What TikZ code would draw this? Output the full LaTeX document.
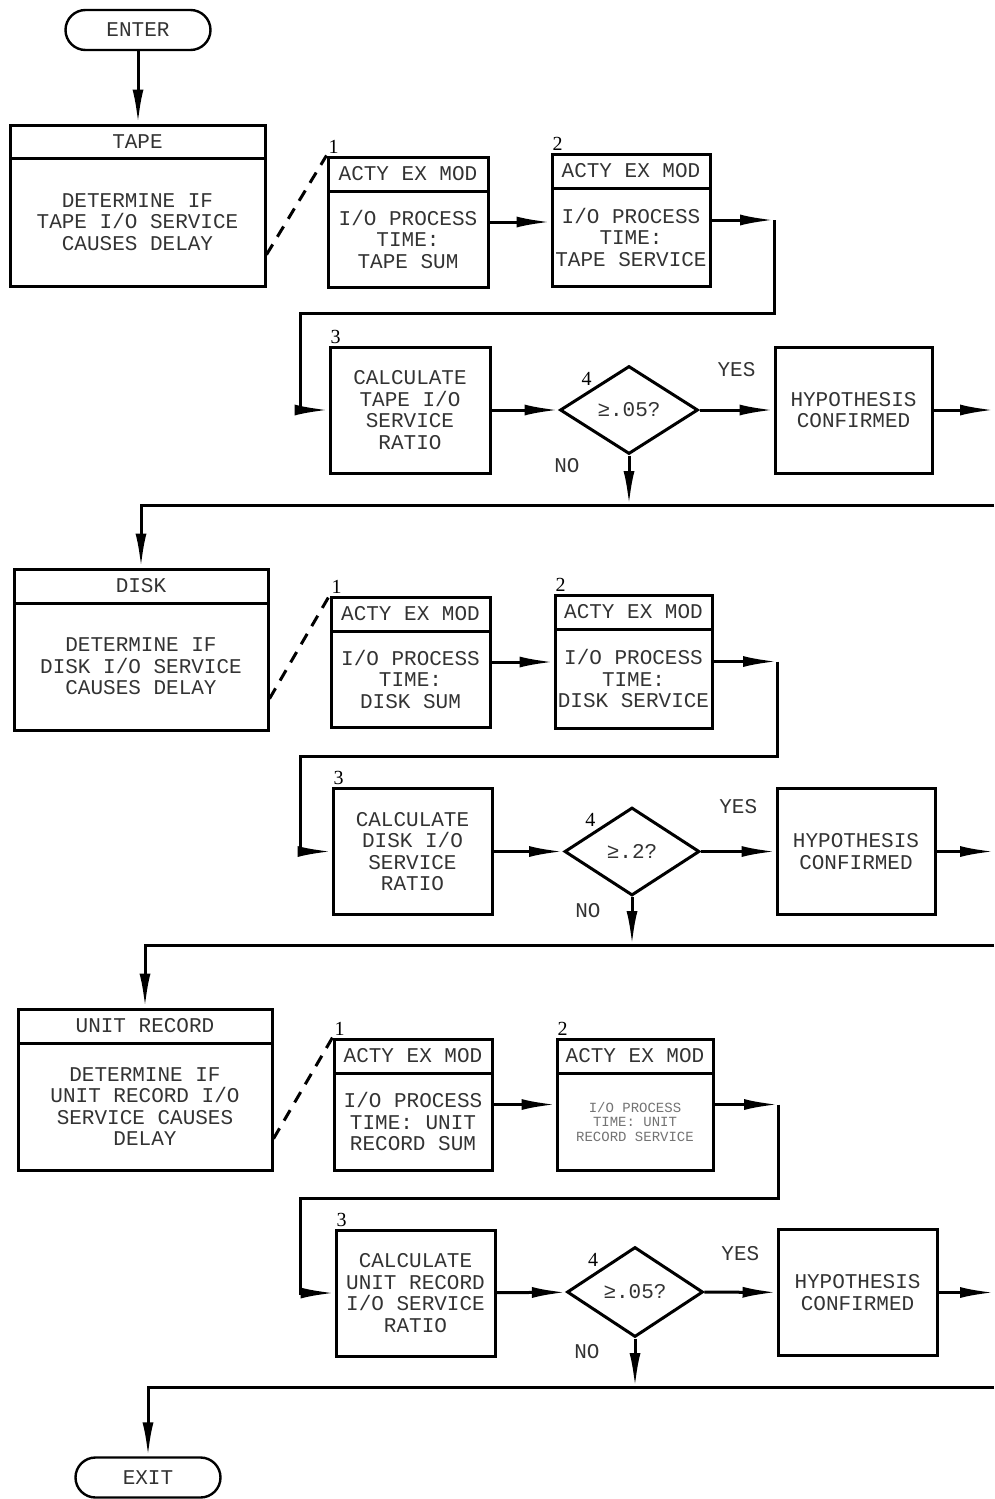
\documentclass[tikz,border=0pt]{standalone}
\usepackage{fontspec}
\setmainfont{Liberation Serif}
\setmonofont{Liberation Mono}
\usetikzlibrary{arrows.meta, positioning, shapes.geometric, shapes.misc, shapes.multipart, calc}

\newcommand{\boxpart}[3]{\parbox[c][#2][c]{#1}{\centering #3}}

\begin{document}
\begin{tikzpicture}[
    x=1pt, y=-1pt,
    txt/.style={font=\ttfamily\fontsize{21}{21.5}\selectfont, text=black!80},
    line/.style={line width=3pt},
    arrow/.style={line, -{Latex[length=34pt, width=11pt]}},
    link/.style={line, dashed, dash pattern=on 12pt off 9pt},
    term/.style={txt, draw, line width=2.4pt, rounded rectangle, minimum width=145pt, minimum height=40pt, inner sep=0pt},
    twopart/.style={txt, draw, line width=3pt, rectangle split, rectangle split parts=2, inner sep=0pt},
    procbox/.style={txt, draw, line width=3pt, minimum height=126pt, align=center, inner sep=0pt},
    decision/.style={txt, draw, line width=3pt, diamond, minimum width=138pt, minimum height=88pt, inner sep=1pt},
    num/.style={font=\rmfamily\fontsize{20}{20}\selectfont, inner sep=2pt},
    answer/.style={txt, inner sep=2pt}
]
    \useasboundingbox (0,0) rectangle (994,1499);

    % tape
    \node[term] (enter) at (138,30) {ENTER};
    \node[twopart] (tape) at (137.5,205.5) {\boxpart{255pt}{30pt}{TAPE}\nodepart{two}\boxpart{255pt}{125pt}{DETERMINE IF\\TAPE I/O SERVICE\\CAUSES DELAY}};
    \node[twopart] (tapesum) at (408,222) {\boxpart{160pt}{31pt}{ACTY EX MOD}\nodepart{two}\boxpart{160pt}{93pt}{I/O PROCESS\\TIME:\\TAPE SUM}};
    \node[twopart] (tapesrv) at (631,220) {\boxpart{158pt}{31pt}{ACTY EX MOD}\nodepart{two}\boxpart{158pt}{95pt}{I/O PROCESS\\TIME:\\TAPE SERVICE}};
    \node[procbox, minimum width=160pt] (tapecalc) at (410,410) {CALCULATE\\TAPE I/O\\SERVICE\\RATIO};
    \node[decision] (tapedec) at (629,410) {≥.05?};
    \node[procbox, minimum width=157pt] (tapehyp) at (853.5,410) {HYPOTHESIS\\CONFIRMED};
    \node[num, anchor=south west] (tapen1) at (tapesum.north west) {1};
    \node[num, anchor=south west] (tapen2) at (tapesrv.north west) {2};
    \node[num, anchor=south west] (tapen3) at (tapecalc.north west) {3};
    \node[num, anchor=south east] (tapen4) at (tapedec.north west) {4};
    \coordinate (tapeturn) at (774,220);
    \coordinate (tapeback) at (300,313);
    \coordinate (tapeedge) at (994,505);

    \draw[arrow] (enter.south) -- (enter.south |- tape.north);
    \draw[link] ($(tape.south east)!0.2!(tape.north east)$) -- (tapesum.north west);
    \draw[arrow] (tapesum.east) -- (tapesum.east -| tapesrv.west);
    \draw[arrow] (tapesrv.east) -- (tapeturn);
    \draw[arrow] (tapeturn) |- (tapeback) |- (tapecalc.west);
    \draw[arrow] (tapecalc) -- (tapedec);
    \draw[arrow] (tapedec) -- node[answer, above=30pt] (tapeyes) {YES} (tapehyp);
    \draw[arrow] (tapehyp) -- (tapehyp.east -| tapeedge);
    \draw[arrow] (tapedec) -- node[answer, pos=0.2, left=46pt] (tapeno) {NO} (tapedec.south |- tapeedge);

    % disk
    \node[twopart] (disk) at (141,649.5) {\boxpart{254pt}{31pt}{DISK}\nodepart{two}\boxpart{254pt}{124pt}{DETERMINE IF\\DISK I/O SERVICE\\CAUSES DELAY}};
    \node[twopart] (disksum) at (410.5,662) {\boxpart{159pt}{31pt}{ACTY EX MOD}\nodepart{two}\boxpart{159pt}{93pt}{I/O PROCESS\\TIME:\\DISK SUM}};
    \node[twopart] (disksrv) at (633.5,661.5) {\boxpart{157pt}{31pt}{ACTY EX MOD}\nodepart{two}\boxpart{157pt}{96pt}{I/O PROCESS\\TIME:\\DISK SERVICE}};
    \node[procbox, minimum width=159pt] (diskcalc) at (412.5,851.5) {CALCULATE\\DISK I/O\\SERVICE\\RATIO};
    \node[decision, minimum width=135pt] (diskdec) at (632,851.5) {≥.2?};
    \node[procbox, minimum width=158pt] (diskhyp) at (856,851.5) {HYPOTHESIS\\CONFIRMED};
    \node[num, anchor=south west] (diskn1) at (disksum.north west) {1};
    \node[num, anchor=south west] (diskn2) at (disksrv.north west) {2};
    \node[num, anchor=south west] (diskn3) at (diskcalc.north west) {3};
    \node[num, anchor=south east] (diskn4) at (diskdec.north west) {4};
    \coordinate (diskturn) at (777,661.5);
    \coordinate (diskback) at (300,756);
    \coordinate (diskedge) at (994,945);

    \draw[arrow] (tapeedge) -| (disk.north);
    \draw[link] ($(disk.south east)!0.2!(disk.north east)$) -- (disksum.north west);
    \draw[arrow] (disksum.east) -- (disksum.east -| disksrv.west);
    \draw[arrow] (disksrv.east) -- (diskturn);
    \draw[arrow] (diskturn) |- (diskback) |- (diskcalc.west);
    \draw[arrow] (diskcalc) -- (diskdec);
    \draw[arrow] (diskdec) -- node[answer, above=34pt] (diskyes) {YES} (diskhyp);
    \draw[arrow] (diskhyp) -- (diskhyp.east -| diskedge);
    \draw[arrow] (diskdec) -- node[answer, pos=0.28, left=28pt] (diskno) {NO} (diskdec.south |- diskedge);

    % unit record
    \node[twopart] (unit) at (145,1089.5) {\boxpart{254pt}{31pt}{UNIT RECORD}\nodepart{two}\boxpart{254pt}{124pt}{DETERMINE IF\\UNIT RECORD I/O\\SERVICE CAUSES\\DELAY}};
    \node[twopart] (unitsum) at (413,1104.5) {\boxpart{158pt}{31pt}{ACTY EX MOD}\nodepart{two}\boxpart{158pt}{94pt}{I/O PROCESS\\TIME: UNIT\\RECORD SUM}};
    \node[twopart] (unitsrv) at (635,1104.5) {\boxpart{156pt}{31pt}{ACTY EX MOD}\nodepart{two}\boxpart{156pt}{94pt}{\fontsize{14}{14.5}\selectfont\color{black!55}I/O PROCESS\\TIME: UNIT\\RECORD SERVICE}};
    \node[procbox, minimum width=159pt] (unitcalc) at (415.5,1293) {CALCULATE\\UNIT RECORD\\I/O SERVICE\\RATIO};
    \node[decision, minimum width=136pt, minimum height=90pt] (unitdec) at (635,1292) {≥.05?};
    \node[procbox, minimum width=159pt] (unithyp) at (857.5,1292.5) {HYPOTHESIS\\CONFIRMED};
    \node[num, anchor=south west] (unitn1) at (unitsum.north west) {1};
    \node[num, anchor=south west] (unitn2) at (unitsrv.north west) {2};
    \node[num, anchor=south west] (unitn3) at (unitcalc.north west) {3};
    \node[num, anchor=south east] (unitn4) at (unitdec.north west) {4};
    \coordinate (unitturn) at (778,1104.5);
    \coordinate (unitback) at (300,1198);
    \coordinate (unitedge) at (994,1387);
    \node[term] (exit) at (148,1477.5) {EXIT};

    \draw[arrow] (diskedge) -| (unit.north);
    \draw[link] ($(unit.south east)!0.2!(unit.north east)$) -- (unitsum.north west);
    \draw[arrow] (unitsum.east) -- (unitsum.east -| unitsrv.west);
    \draw[arrow] (unitsrv.east) -- (unitturn);
    \draw[arrow] (unitturn) |- (unitback) |- (unitcalc.west);
    \draw[arrow] (unitcalc) -- (unitdec);
    \draw[arrow] (unitdec) -- node[answer, above=28pt] (unityes) {YES} (unithyp);
    \draw[arrow] (unithyp) -- (unithyp.east -| unitedge);
    \draw[arrow] (unitdec) -- node[answer, pos=0.26, left=32pt] (unitno) {NO} (unitdec.south |- unitedge);
    \draw[arrow] (unitedge) -| (exit.north);
\end{tikzpicture}
\end{document}
